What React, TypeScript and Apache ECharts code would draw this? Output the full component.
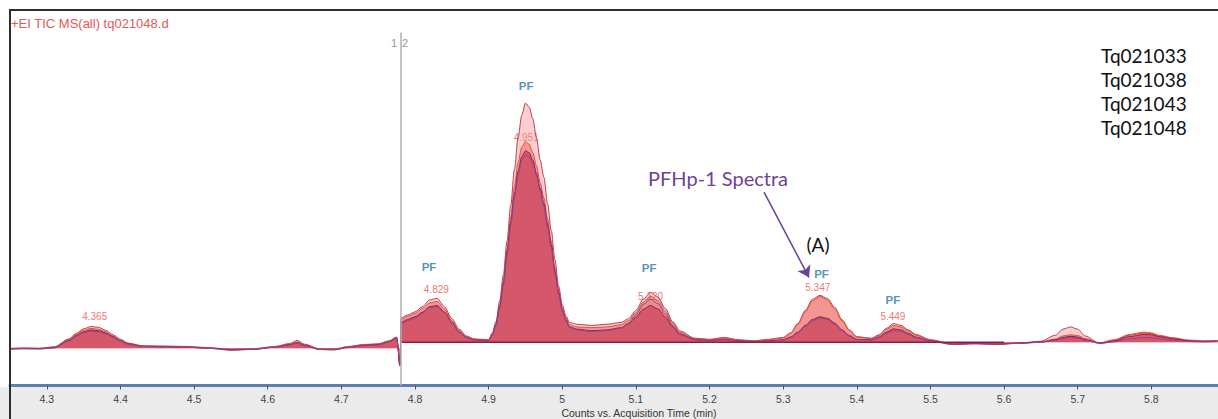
import React, { useEffect, useRef } from 'react';
import * as echarts from 'echarts';

// ---- data ----
const fileNames = ['Tq021033', 'Tq021038', 'Tq021043', 'Tq021048'];

const preTimes = [
  4.25, 4.27, 4.29, 4.31, 4.33, 4.34, 4.35, 4.36, 4.37, 4.38,
  4.39, 4.40, 4.41, 4.43, 4.46, 4.49, 4.52, 4.55, 4.58, 4.61,
  4.63, 4.64, 4.65, 4.67, 4.69, 4.71, 4.73, 4.75, 4.765, 4.775,
  4.779,
];
const preA = [
  9.9, 10.0, 9.9, 10.3, 12.4, 13.9, 15.1, 15.7, 15.5, 14.7,
  13.5, 12.3, 11.3, 10.6, 10.5, 10.4, 10.1, 9.6, 9.8, 10.4,
  11.2, 12.0, 11.0, 9.8, 9.7, 10.4, 10.9, 11.1, 11.9, 12.9,
  5.4,
];
const preB = [
  9.8, 9.9, 9.9, 10.2, 12.2, 13.6, 14.7, 15.2, 15.0, 14.3,
  13.2, 12.1, 11.2, 10.5, 10.4, 10.3, 10.0, 9.5, 9.7, 10.3,
  11.0, 11.6, 10.8, 9.7, 9.6, 10.3, 10.8, 11.0, 11.8, 12.8,
  5.5,
];
const preC = [
  9.7, 9.8, 9.8, 10.1, 12.0, 13.3, 14.3, 14.8, 14.6, 14.0,
  13.0, 11.9, 11.1, 10.4, 10.3, 10.2, 9.9, 9.5, 9.6, 10.2,
  10.9, 11.4, 10.7, 9.6, 9.5, 10.2, 10.7, 10.9, 11.7, 12.7,
  5.3,
];
const preD = [
  9.7, 9.8, 9.7, 10.0, 11.8, 13.1, 14.1, 14.5, 14.3, 13.8,
  12.8, 11.8, 11.0, 10.4, 10.3, 10.2, 9.9, 9.4, 9.6, 10.2,
  10.8, 11.3, 10.6, 9.6, 9.5, 10.1, 10.6, 10.8, 11.6, 12.6,
  5.2,
];

const postTimes = [
  4.780, 4.781, 4.79, 4.80, 4.81, 4.82, 4.83, 4.84, 4.85, 4.86,
  4.87, 4.88, 4.89, 4.90, 4.905, 4.91, 4.915, 4.92, 4.925, 4.93,
  4.935, 4.94, 4.945, 4.95, 4.955, 4.96, 4.965, 4.97, 4.975, 4.98,
  4.985, 4.99, 4.995, 5.00, 5.005, 5.01, 5.02, 5.04, 5.06, 5.08,
  5.09, 5.10, 5.11, 5.12, 5.13, 5.14, 5.15, 5.16, 5.18, 5.20,
  5.22, 5.24, 5.26, 5.28, 5.30, 5.31, 5.32, 5.33, 5.34, 5.35,
  5.36, 5.37, 5.38, 5.39, 5.40, 5.42, 5.43, 5.44, 5.45, 5.46,
  5.47, 5.48, 5.50, 5.53, 5.56, 5.59, 5.62, 5.65, 5.67, 5.68,
  5.69, 5.70, 5.71, 5.73, 5.75, 5.77, 5.79, 5.80, 5.81, 5.83,
  5.85, 5.87, 5.89,
];
const postA = [
  5.5, 18.0, 18.8, 19.6, 21.0, 22.8, 23.2, 21.0, 17.8, 15.0,
  13.2, 12.4, 12.3, 12.2, 14.0, 17.0, 22.5, 29.5, 38.5, 48.0,
  57.5, 66.0, 72.0, 75.2, 74.2, 71.0, 66.0, 60.0, 55.5, 48.5,
  41.3, 33.5, 26.5, 21.5, 18.5, 16.8, 16.3, 16.0, 16.3, 16.8,
  17.8, 20.0, 23.0, 24.8, 23.5, 20.5, 17.0, 14.5, 12.6, 12.3,
  12.8, 12.2, 11.9, 12.3, 12.8, 14.0, 16.5, 20.0, 23.0, 24.0,
  23.2, 20.8, 17.5, 14.8, 13.0, 12.6, 13.5, 15.2, 16.5, 16.0,
  14.8, 13.6, 12.2, 11.0, 11.2, 11.0, 11.3, 11.8, 13.4, 15.0,
  15.6, 15.0, 13.2, 11.2, 12.0, 13.4, 14.0, 13.8, 13.2, 12.6,
  12.0, 11.8, 12.0,
];
const postB = [
  5.8, 17.6, 18.4, 19.2, 20.5, 22.0, 22.4, 20.4, 17.3, 14.7,
  13.0, 12.3, 12.2, 12.1, 13.7, 16.5, 21.5, 28.0, 36.5, 45.0,
  53.0, 59.5, 63.5, 65.0, 64.3, 62.0, 58.5, 54.0, 50.0, 44.5,
  38.5, 31.5, 25.5, 20.8, 18.0, 16.2, 15.6, 15.4, 15.6, 16.2,
  17.3, 19.4, 22.2, 23.8, 22.6, 19.8, 16.6, 14.2, 12.5, 12.2,
  12.6, 12.0, 11.8, 12.2, 12.7, 13.9, 16.3, 19.6, 22.6, 23.7,
  22.8, 20.4, 17.2, 14.6, 12.9, 12.5, 13.3, 14.9, 16.0, 15.6,
  14.5, 13.4, 12.1, 11.1, 11.1, 11.1, 11.2, 11.6, 12.4, 13.2,
  13.5, 13.3, 12.5, 11.4, 12.2, 13.6, 14.2, 14.0, 13.4, 12.7,
  12.1, 11.9, 12.0,
];
const postC = [
  5.4, 16.8, 17.6, 18.3, 19.5, 21.0, 21.3, 19.6, 16.8, 14.3,
  12.8, 12.2, 12.1, 12.0, 13.5, 16.2, 21.0, 27.3, 35.5, 43.5,
  51.0, 57.0, 61.0, 62.5, 62.0, 60.0, 56.5, 52.5, 48.5, 43.0,
  37.5, 30.5, 24.8, 20.2, 17.5, 15.6, 15.0, 14.6, 14.8, 15.4,
  16.5, 18.2, 20.3, 21.3, 20.4, 18.2, 15.6, 13.6, 12.2, 12.0,
  12.3, 11.9, 11.7, 11.9, 12.2, 12.9, 14.2, 16.0, 17.6, 18.3,
  17.9, 16.6, 14.8, 13.3, 12.3, 12.2, 12.9, 14.2, 15.1, 14.8,
  13.9, 12.9, 11.9, 11.0, 11.2, 11.0, 11.3, 11.6, 12.2, 12.8,
  13.1, 12.9, 12.2, 11.3, 11.9, 13.0, 13.6, 13.5, 13.0, 12.4,
  11.9, 11.7, 11.8,
];
const postD = [
  5.3, 16.5, 17.3, 18.0, 19.2, 20.8, 21.0, 19.4, 16.6, 14.1,
  12.7, 12.1, 12.0, 11.9, 13.3, 16.0, 20.6, 26.8, 34.8, 42.8,
  50.0, 56.0, 60.0, 61.5, 61.0, 59.0, 55.8, 51.8, 47.8, 42.3,
  36.8, 30.0, 24.4, 19.8, 17.2, 15.4, 14.8, 14.4, 14.6, 15.3,
  16.6, 18.8, 21.6, 23.0, 21.8, 19.0, 16.0, 13.8, 12.3, 12.0,
  12.2, 11.8, 11.6, 11.8, 12.1, 12.8, 14.0, 15.7, 17.3, 18.0,
  17.6, 16.3, 14.6, 13.1, 12.2, 12.1, 12.7, 13.9, 14.6, 14.4,
  13.6, 12.7, 11.8, 10.9, 11.1, 11.0, 11.2, 11.5, 12.0, 12.5,
  12.8, 12.6, 12.0, 11.2, 11.6, 12.4, 12.8, 12.7, 12.4, 12.0,
  11.7, 11.6, 11.7,
];

const preBaseline = 9.9;
const postBaseline = 11.5;
const baselineTimes = [4.781, 5.6];
const markerTime = 4.78;

const peakTimes = [4.365, 4.829, 4.951, 5.12, 5.347, 5.449];
const peakLabels = ['4.365', '4.829', '4.951', '5.120', '5.347', '5.449'];
const peakLabelLevels = [18.4, 25.6, 66.1, 23.6, 26.1, 18.4];
const pfTimes = [4.819, 4.951, 5.118, 5.352, 5.449];
const pfLevels = [31.5, 79.7, 31.2, 29.6, 22.9];
const arrowFrom = [5.274, 51.5];
const arrowTo = [5.335, 28.8];

const tickValues = [4.3, 4.4, 4.5, 4.6, 4.7, 4.8, 4.9, 5.0, 5.1, 5.2, 5.3, 5.4, 5.5, 5.6, 5.7, 5.8, 5.9];

// ---- styles ----
const traceStyles = [
  { line: '#c23a4c', fill: 'rgba(245,140,146,0.6)' },
  { line: '#e0503c', fill: 'rgba(232,60,50,0.55)' },
  { line: '#a8183a', fill: 'rgba(190,20,55,0.65)' },
  { line: '#7d4d9e', fill: 'rgba(160,60,120,0.15)' },
];

const SANS = '"Liberation Sans", Arial, sans-serif';
const CAL = 'Lato, "Open Sans", sans-serif';

function buildOption() {
  const pre = [preA, preB, preC, preD];
  const post = [postA, postB, postC, postD];
  const series: any[] = [];
  pre.forEach((vals, i) => {
    series.push({
      type: 'line',
      name: fileNames[i] + ' pre',
      data: preTimes.map((t, j) => [t, vals[j]]),
      showSymbol: false,
      smooth: 0.3,
      smoothMonotone: 'x',
      z: 2,
      lineStyle: { color: traceStyles[i].line, width: 1 },
      itemStyle: { color: traceStyles[i].line },
      areaStyle: { color: traceStyles[i].fill, origin: preBaseline },
    });
  });
  post.forEach((vals, i) => {
    series.push({
      type: 'line',
      name: fileNames[i],
      data: postTimes.map((t, j) => [t, vals[j]]),
      showSymbol: false,
      smooth: 0.3,
      smoothMonotone: 'x',
      z: 2,
      lineStyle: { color: traceStyles[i].line, width: 1 },
      itemStyle: { color: traceStyles[i].line },
      areaStyle: { color: traceStyles[i].fill, origin: postBaseline },
    });
  });
  series.push({
    type: 'line',
    name: 'baseline',
    data: baselineTimes.map((t) => [t, postBaseline]),
    showSymbol: false,
    z: 3,
    lineStyle: { color: '#8e1d3e', width: 1.5 },
  });
  series.push({
    type: 'scatter',
    name: 'rt',
    z: 1,
    symbolSize: 0.1,
    itemStyle: { color: 'transparent' },
    data: peakTimes.map((t, j) => ({ value: [t, peakLabelLevels[j]], name: peakLabels[j] })),
    label: {
      show: true,
      position: 'inside',
      formatter: (p: any) => p.name,
      color: '#e2514c',
      fontSize: 10,
      fontFamily: SANS,
    },
  });
  series.push({
    type: 'scatter',
    name: 'pf',
    z: 5,
    symbolSize: 0.1,
    itemStyle: { color: 'transparent' },
    data: pfTimes.map((t, j) => [t, pfLevels[j]]),
    label: {
      show: true,
      position: 'inside',
      formatter: 'PF',
      color: '#2878a6',
      fontSize: 11.5,
      fontWeight: 'bold',
      fontFamily: SANS,
    },
    markLine: {
      silent: true,
      animation: false,
      label: { show: false },
      data: [
        [
          { coord: [markerTime, 94], symbol: 'none', lineStyle: { color: '#b0b0b0', width: 1.5, type: 'solid' } },
          { coord: [markerTime, 0], symbol: 'none' },
        ],
        [
          { coord: arrowFrom, symbol: 'none', lineStyle: { color: '#6b3f9e', width: 1.5, type: 'solid' } },
          { coord: arrowTo, symbol: 'arrow', symbolSize: 11 },
        ],
      ],
    },
  });

  return {
    animation: false,
    backgroundColor: '#ffffff',
    grid: {
      left: 10,
      right: -7,
      top: 10,
      bottom: 33.5,
      containLabel: false,
      outerBoundsMode: 'none',
      show: true,
      backgroundColor: '#ffffff',
      borderWidth: 0,
    },
    xAxis: {
      type: 'value',
      min: 4.25,
      max: 5.9,
      axisLine: { show: true, lineStyle: { color: '#5f7fae', width: 3 } },
      axisTick: { show: true, customValues: tickValues, length: 4, lineStyle: { color: '#555', width: 1 } },
      axisLabel: {
        customValues: tickValues,
        color: '#444',
        fontSize: 10.5,
        fontFamily: SANS,
        margin: 8,
      },
      splitLine: { show: false },
    },
    yAxis: {
      type: 'value',
      min: 0,
      max: 100,
      show: false,
      splitLine: { show: false },
    },
    graphic: [
      { type: 'rect', z: -10, shape: { x: 0, y: 387, width: 1218, height: 32 }, style: { fill: '#ebebeb' } },
      { type: 'line', z: 100, shape: { x1: 9, y1: 10, x2: 1218, y2: 10 }, style: { stroke: '#2d2d2d', lineWidth: 2 } },
      { type: 'line', z: 100, shape: { x1: 10, y1: 9, x2: 10, y2: 419 }, style: { stroke: '#2d2d2d', lineWidth: 2 } },
      {
        type: 'text', x: 11, y: 23, z: 100,
        style: { text: '+EI TIC MS(all) tq021048.d', fill: '#e45a55', fontSize: 13, fontFamily: SANS, verticalAlign: 'middle' },
      },
      {
        type: 'text', x: 397, y: 43, z: 100,
        style: { text: '1', fill: '#999', fontSize: 11, fontFamily: SANS, align: 'right', verticalAlign: 'middle' },
      },
      {
        type: 'text', x: 402, y: 43, z: 100,
        style: { text: '2', fill: '#999', fontSize: 11, fontFamily: SANS, align: 'left', verticalAlign: 'middle' },
      },
      ...fileNames.map((n, i) => ({
        type: 'text', x: 1101, y: 55 + i * 24, z: 100,
        style: { text: n, fill: '#111', fontSize: 19, fontFamily: CAL, verticalAlign: 'middle' },
      })),
      {
        type: 'text', x: 718, y: 178, z: 100,
        style: { text: 'PFHp-1 Spectra', fill: '#7040a0', fontSize: 20, fontFamily: CAL, align: 'center', verticalAlign: 'middle' },
      },
      {
        type: 'text', x: 818, y: 244, z: 100,
        style: { text: '(A)', fill: '#111', fontSize: 19, fontFamily: CAL, align: 'center', verticalAlign: 'middle' },
      },
      {
        type: 'text', x: 639, y: 413, z: 100,
        style: { text: 'Counts vs. Acquisition Time (min)', fill: '#333', fontSize: 10.5, fontFamily: SANS, align: 'center', verticalAlign: 'middle' },
      },
    ],
    series,
  };
}

export default function App() {
  const ref = useRef<HTMLDivElement>(null);
  useEffect(() => {
    if (!ref.current) return;
    const chart = echarts.init(ref.current, null, { renderer: 'svg' });
    chart.setOption(buildOption() as any);
    return () => chart.dispose();
  }, []);
  return (
    <div
      ref={ref}
      style={{ position: 'absolute', left: 0, top: 0, width: 1218, height: 419, overflow: 'hidden', background: '#fff' }}
    />
  );
}
